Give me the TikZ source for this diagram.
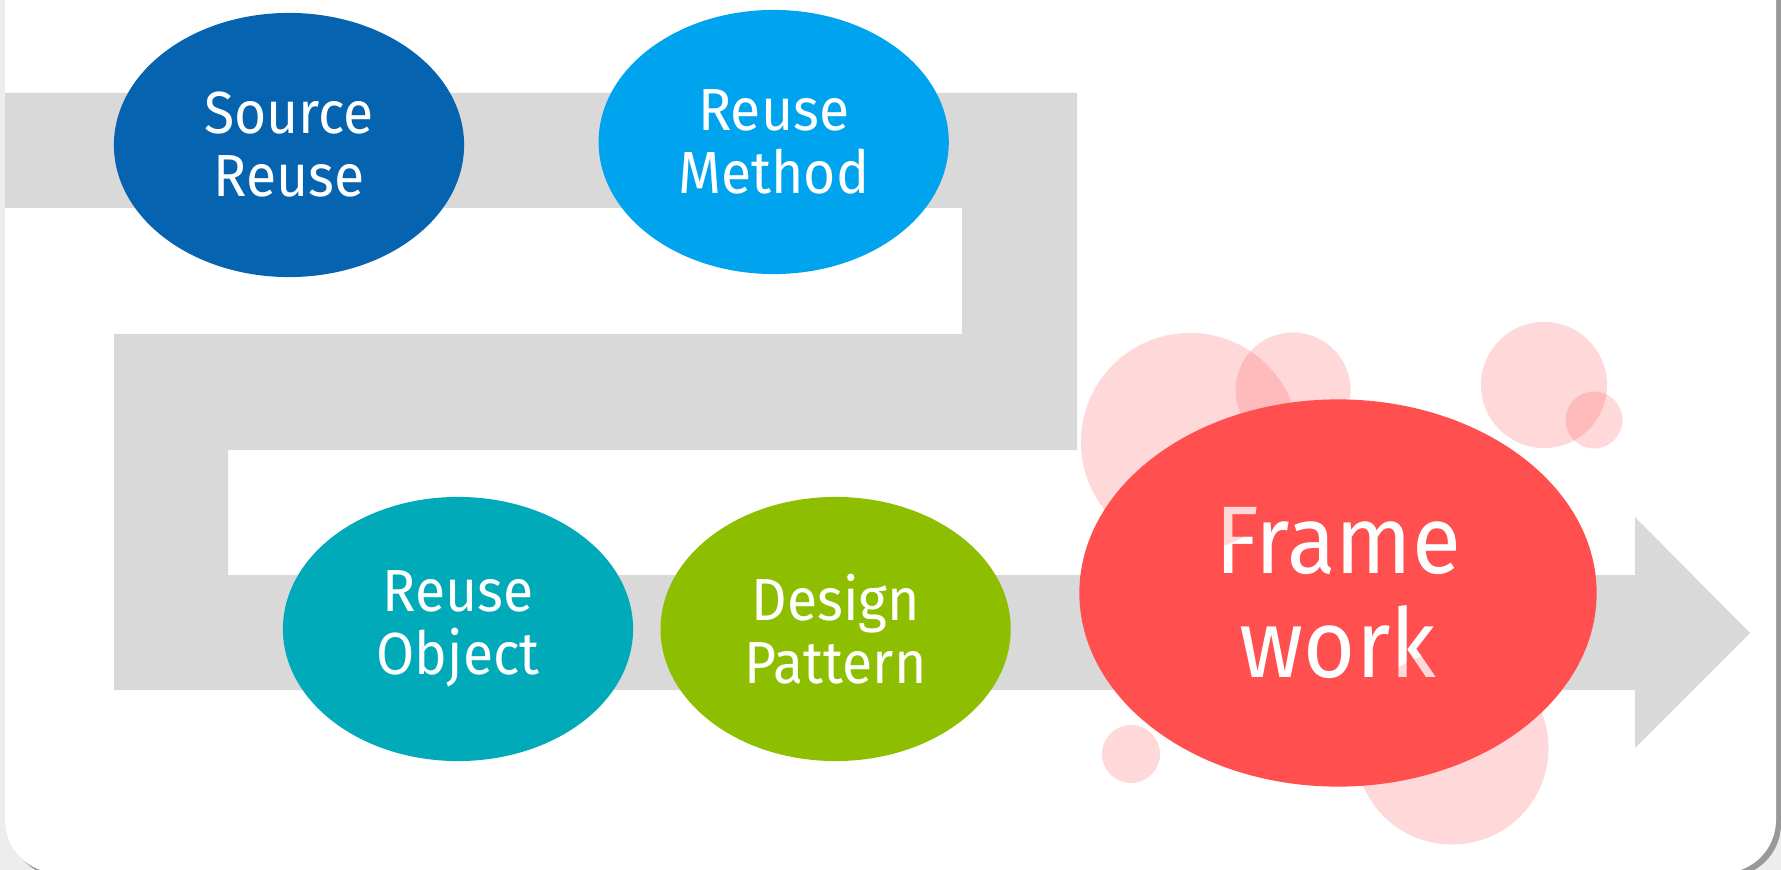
\documentclass[tikz,border=0pt]{standalone}
\usepackage{fontspec}
\setmainfont{Fira Sans}[FakeStretch=0.93]
\usetikzlibrary{shapes.geometric,positioning}
\definecolor{srcblue}{HTML}{0563B0}
\definecolor{methblue}{HTML}{00A3EE}
\definecolor{objteal}{HTML}{00AAB9}
\definecolor{patgreen}{HTML}{8DBF00}
\definecolor{fwred}{HTML}{FF4F4F}
\definecolor{bandgray}{HTML}{D9D9D9}

\begin{document}
\begin{tikzpicture}[x=0.01cm,y=-0.01cm,node distance=1cm,align=center,
		bubble/.style={ellipse,minimum width=3.5cm,minimum height=2.64cm,inner sep=0pt,text=white,font=\fontsize{16.9}{17.9}\selectfont},
		bigbubble/.style={bubble,minimum width=5.17cm,minimum height=3.87cm,font=\fontsize{27.3}{29.6}\selectfont},
		spot/.style={fill=fwred,fill opacity=0.21}]
				\useasboundingbox (0,0) rectangle (1781,870);
				\clip (0,0) rectangle (1781,870);
				% card
				\fill[black!7] (0,0) rectangle (1781,870);
				\fill[black!40,rounded corners=0.53cm] (9,-60) rectangle (1781,877);
				\fill[white,rounded corners=0.53cm] (5,-60) rectangle (1776,873);
				% the gray track
				\fill[bandgray] (5,93) -- (1077,93) -- (1077,450) -- (228,450) -- (228,575) -- (1635,575)
					-- (1635,517) -- (1750,633) -- (1635,748) -- (1635,690) -- (114,690) -- (114,334)
					-- (962,334) -- (962,208) -- (5,208) -- cycle;
				\node[bubble,fill=srcblue] (b_0) at (289,145) {Source\\Reuse};
				\node[bubble,fill=methblue] [right=1.33cm of b_0,yshift=0.03cm] (b_1) {Reuse\\Method};
				\node[bubble,fill=objteal] (b_2) at (458,629) {Reuse\\Object};
				\node[bubble,fill=patgreen] [right=0.26cm of b_2] (b_3) {Design\\Pattern};
				\node[bigbubble,fill=fwred] (b_4) at (1338,593) {Frame\\work};
				% pink spots
				\foreach \cx/\cy/\r in {1190/442/1.09,1293/390/0.575,1544/385/0.63,1594/420/0.285,1131/754/0.29,1452/748/0.965}
					\fill[spot] (\cx,\cy) circle [radius=\r cm];
			\end{tikzpicture}
\end{document}
